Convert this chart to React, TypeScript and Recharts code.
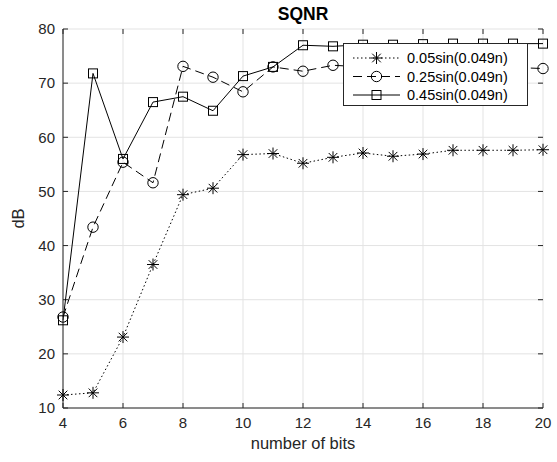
import { LineChart, Line, XAxis, YAxis, CartesianGrid, Legend, ReferenceLine } from 'recharts'

const BITS = [4, 5, 6, 7, 8, 9, 10, 11, 12, 13, 14, 15, 16, 17, 18, 19, 20]
const SQNR_005 = [12.4, 12.8, 23.1, 36.5, 49.4, 50.6, 56.8, 57.0, 55.2, 56.3, 57.1, 56.5, 56.9, 57.6, 57.6, 57.6, 57.7]
const SQNR_025 = [26.8, 43.4, 55.4, 51.6, 73.1, 71.1, 68.4, 73.0, 72.2, 73.3, 73.0, 72.9, 73.1, 72.8, 73.0, 72.9, 72.7]
const SQNR_045 = [26.2, 71.8, 56.0, 66.5, 67.5, 64.9, 71.3, 73.0, 77.0, 76.8, 77.1, 77.1, 77.2, 77.3, 77.3, 77.3, 77.3]
const X_TICKS = [4, 6, 8, 10, 12, 14, 16, 18, 20]
const Y_TICKS = [10, 20, 30, 40, 50, 60, 70, 80]

const dados = BITS.map((b, i) => ({ bits: b, a: SQNR_005[i], b: SQNR_025[i], c: SQNR_045[i] }))

const FONTE = '"Liberation Sans", Arial, sans-serif'
const EIXO = '#262626'
// tracinho interno de ~5px, em unidades de dados (16 unid. em 480px, 70 unid. em 379px)
const TIQUE_X = 5 * (16 / 480)
const TIQUE_Y = 5 * (70 / 379)

type Marca = 'estrela' | 'circulo' | 'quadrado'

function Marcador({ cx, cy, tipo }: { cx: number; cy: number; tipo: Marca }) {
  if (tipo === 'estrela') {
    const r = 6
    const d = r * 0.72
    return (
      <g stroke="#000" strokeWidth={1}>
        <line x1={cx - r} y1={cy} x2={cx + r} y2={cy} />
        <line x1={cx} y1={cy - r} x2={cx} y2={cy + r} />
        <line x1={cx - d} y1={cy - d} x2={cx + d} y2={cy + d} />
        <line x1={cx - d} y1={cy + d} x2={cx + d} y2={cy - d} />
      </g>
    )
  }
  if (tipo === 'circulo') return <circle cx={cx} cy={cy} r={5.2} fill="none" stroke="#000" strokeWidth={1} />
  return <rect x={cx - 4.5} y={cy - 4.5} width={9} height={9} fill="none" stroke="#000" strokeWidth={1} />
}

const SERIES: { chave: string; nome: string; traco: string; marca: Marca }[] = [
  { chave: 'a', nome: '0.05sin(0.049n)', traco: '1.5 2.5', marca: 'estrela' },
  { chave: 'b', nome: '0.25sin(0.049n)', traco: '9 5', marca: 'circulo' },
  { chave: 'c', nome: '0.45sin(0.049n)', traco: '', marca: 'quadrado' },
]

function Legenda() {
  return (
    <div style={{ width: 185, height: 63, boxSizing: 'border-box', border: `1px solid ${EIXO}`, background: '#fff' }}>
      <svg width={183} height={61}>
        {SERIES.map((s, i) => {
          const y = 14 + i * 18.5
          return (
            <g key={s.chave}>
              <line x1={9} y1={y} x2={56} y2={y} stroke="#000" strokeDasharray={s.traco || undefined} />
              <Marcador cx={32.5} cy={y} tipo={s.marca} />
              <text x={63} y={y} dy="0.35em" fontSize={14.5} fontFamily={FONTE} fill="#000">
                {s.nome}
              </text>
            </g>
          )
        })}
      </svg>
    </div>
  )
}

export default function App() {
  return (
    <div style={{ position: 'absolute', left: 0, top: 0, width: 557, height: 462, background: '#fff' }}>
      <div
        style={{
          position: 'absolute',
          left: 63,
          width: 480,
          top: 3,
          textAlign: 'center',
          fontFamily: FONTE,
          fontWeight: 'bold',
          fontSize: 17.5,
          lineHeight: '22px',
          color: '#000',
        }}
      >
        SQNR
      </div>
      <LineChart width={557} height={462} data={dados} margin={{ top: 29, right: 14, bottom: 24, left: 23 }}>
        <CartesianGrid stroke="#e3e3e3" strokeWidth={1} />
        <XAxis
          dataKey="bits"
          type="number"
          domain={[4, 20]}
          ticks={X_TICKS}
          height={30}
          stroke={EIXO}
          tickLine={false}
          tickSize={0}
          tickMargin={9}
          tick={{ fontSize: 15, fontFamily: FONTE, fill: EIXO }}
          label={{
            content: ({ viewBox }: any) => (
              <text x={viewBox.x + viewBox.width / 2} y={443} textAnchor="middle" dominantBaseline="central" fontSize={16.5} fontFamily={FONTE} fill={EIXO}>
                number of bits
              </text>
            ),
          }}
        />
        <XAxis
          xAxisId="topo"
          orientation="top"
          dataKey="bits"
          type="number"
          domain={[4, 20]}
          ticks={X_TICKS}
          height={0}
          stroke={EIXO}
          tickLine={false}
          tickFormatter={() => ''}
        />
        <YAxis
          type="number"
          domain={[10, 80]}
          ticks={Y_TICKS}
          width={40}
          stroke={EIXO}
          tickLine={false}
          tickSize={0}
          tickMargin={8}
          tick={{ fontSize: 15, fontFamily: FONTE, fill: EIXO }}
          label={{
            content: ({ viewBox }: any) => (
              <text x={18} y={viewBox.y + viewBox.height / 2} transform={`rotate(-90 18 ${viewBox.y + viewBox.height / 2})`} textAnchor="middle" dominantBaseline="central" fontSize={16.5} fontFamily={FONTE} fill={EIXO}>
                dB
              </text>
            ),
          }}
        />
        <YAxis
          yAxisId="dir"
          orientation="right"
          type="number"
          domain={[10, 80]}
          ticks={Y_TICKS}
          width={0}
          stroke={EIXO}
          tickLine={false}
          tickFormatter={() => ''}
        />
        {X_TICKS.map((t) => (
          <ReferenceLine key={`xb${t}`} segment={[{ x: t, y: 10 }, { x: t, y: 10 + TIQUE_Y }]} stroke={EIXO} ifOverflow="visible" />
        ))}
        {X_TICKS.map((t) => (
          <ReferenceLine key={`xt${t}`} segment={[{ x: t, y: 80 }, { x: t, y: 80 - TIQUE_Y }]} stroke={EIXO} ifOverflow="visible" />
        ))}
        {Y_TICKS.map((t) => (
          <ReferenceLine key={`yl${t}`} segment={[{ x: 4, y: t }, { x: 4 + TIQUE_X, y: t }]} stroke={EIXO} ifOverflow="visible" />
        ))}
        {Y_TICKS.map((t) => (
          <ReferenceLine key={`yr${t}`} segment={[{ x: 20, y: t }, { x: 20 - TIQUE_X, y: t }]} stroke={EIXO} ifOverflow="visible" />
        ))}
        {SERIES.map((s) => (
          <Line
            key={s.chave}
            dataKey={s.chave}
            name={s.nome}
            type="linear"
            stroke="#000"
            strokeWidth={1}
            strokeDasharray={s.traco || undefined}
            isAnimationActive={false}
            dot={(p: any) => <Marcador key={`${s.chave}-${p.index}`} cx={p.cx} cy={p.cy} tipo={s.marca} />}
            activeDot={false}
          />
        ))}
        <Legend
          layout="vertical"
          align="center"
          verticalAlign="middle"
          content={() => <Legenda />}
          wrapperStyle={{ left: 343, top: 43, width: 185, height: 63 }}
        />
      </LineChart>
    </div>
  )
}
